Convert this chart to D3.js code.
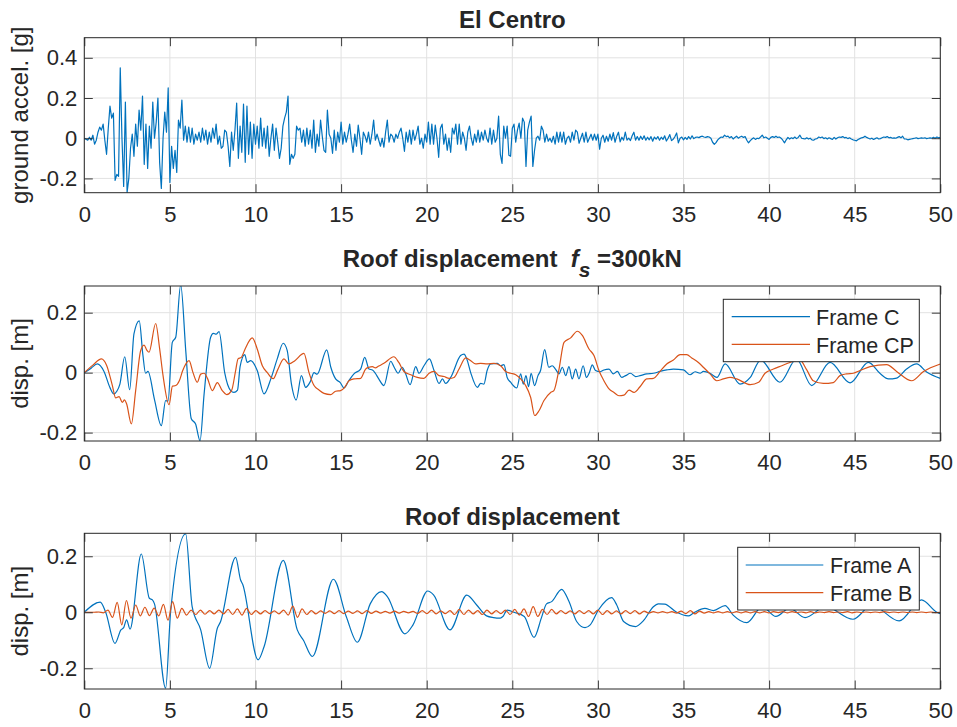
<!DOCTYPE html>
<html>
<head>
<meta charset="utf-8">
<script src="https://cdn.jsdelivr.net/npm/d3@7"></script>
<style>
  body { margin: 0; background: #fff; }
  svg text { font-family: "Liberation Sans", Arial, Helvetica, sans-serif; fill: #262626; }
</style>
</head>
<body>
<div id="chart"></div>
<script>
// ---- data ----
var xTicks = [0, 5, 10, 15, 20, 25, 30, 35, 40, 45, 50];
var accelTicks = [-0.2, 0, 0.2, 0.4];
var dispTicks = [-0.2, 0, 0.2];

// El Centro ground acceleration [g], sampled every dtAccel s
var dtAccel = 0.1;
var groundAccel = [
  0, -0.005, -0.01, 0.005, -0.01, 0.015, -0.03, -0.01, 0.03, 0.055,
  0.04, 0.07, -0.01, -0.08, 0.05, 0.16, 0.1, 0.125, -0.21, -0.18,
  -0.19, 0.35, 0.0, -0.24, 0.18, -0.27, -0.2, -0.05, 0.02, -0.09,
  0.07, -0.04, 0.14, 0.04, 0.21, -0.13, 0.07, -0.15, 0.06, -0.05,
  0.18, 0.0, 0.08, 0.2, -0.12, -0.25, 0.0, 0.13, 0.03, 0.25,
  -0.22, -0.04, -0.15, -0.06, -0.17, 0.09, 0.05, 0.19, -0.01, 0.06,
  -0.02, 0.055, -0.02, 0.05, -0.03, 0.02, -0.01, 0.03, -0.02, 0.05,
  -0.01, 0.04, -0.03, 0.03, -0.02, 0.05, 0.0, 0.07, -0.03, 0.01,
  -0.05, -0.04, 0.04, 0.03, -0.04, -0.14, 0.03, -0.06, 0.04, 0.175,
  -0.1, 0.06, -0.07, 0.17, -0.12, 0.16, -0.08, 0.08, -0.1, 0.07,
  -0.03, 0.06, -0.05, 0.1, -0.04, 0.05, -0.05, 0.06, -0.09, 0.0,
  0.07, -0.06, 0.05, -0.02, -0.1, -0.05, 0.06, 0.1, 0.13, 0.21,
  -0.13, -0.08, -0.1, -0.08, 0.06, 0.04, 0.05, -0.02, 0.04, -0.04,
  0.05, -0.03, 0.04, -0.05, 0.09, -0.07, 0.02, -0.04, 0.09, 0.01,
  -0.06, -0.07, 0.14, 0.02, 0.0, -0.075, 0.04, -0.06, 0.03, -0.02,
  0.08, -0.03, 0.03, -0.02, 0.02, 0.07, -0.01, -0.07, 0.02, -0.04,
  0.065, 0.0, -0.08, 0.03, 0.01, -0.02, 0.03, -0.03, 0.02, 0.09,
  -0.01, 0.02, -0.01, -0.04, 0.0, -0.045, 0.03, 0.09, -0.02, 0.02,
  0.01, -0.02, 0.02, 0.0, 0.03, 0.05, 0.0, -0.065, 0.03, -0.02,
  0.04, -0.03, 0.04, -0.01, 0.02, 0.06, -0.03, 0.0, -0.05, 0.02,
  -0.02, 0.08, -0.03, 0.07, -0.03, 0.065, 0.0, -0.095, 0.05, 0.07,
  -0.03, 0.02, -0.06, 0.0, -0.07, 0.05, 0.02, 0.07, -0.03, 0.07,
  -0.03, 0.03, 0.0, -0.06, 0.03, 0.06, 0.0, -0.035, 0.02, -0.02,
  0.04, -0.02, 0.03, -0.01, 0.04, 0.0, -0.02, 0.05, -0.03, 0.04,
  -0.02, 0.0, 0.11, -0.08, -0.125, 0.06, 0.0, 0.06, -0.085, -0.09,
  0.05, 0.07, -0.02, 0.04, 0.075, 0.0, 0.1, 0.08, -0.14, 0.04,
  0.08, 0.11, -0.14, -0.06, 0.0, 0.01, -0.01, 0.06, 0.04, -0.02,
  0.02, -0.015, 0.0, -0.02, 0.01, -0.03, 0.03, -0.02, 0.03, -0.02,
  0.03, -0.03, 0.0, 0.01, -0.02, 0.03, -0.01, 0.04, 0.03, -0.025,
  0.0, 0.025, -0.02, 0.03, -0.02, 0.0, 0.02, -0.01, 0.02, -0.01,
  0.02, -0.055, 0.0, 0.015, -0.02, 0.01, -0.015, 0.02, -0.01, 0.028,
  -0.02, 0.01, 0.03, -0.018, 0.005, -0.01, 0.03, -0.01, 0.0, -0.012,
  0.012, 0.03, -0.01, 0.008, -0.01, 0.01, -0.006, 0.012, -0.01, 0.005,
  -0.008, 0.008, -0.015, 0.006, -0.005, 0.008, -0.01, 0.005, -0.006, 0.012,
  -0.014, 0.0, 0.018, -0.012, -0.005, 0.008, 0.026, -0.023, 0.0, 0.006,
  -0.008, 0.004, -0.006, 0.008, -0.004, 0.012, -0.002, 0.004, 0.006, 0.003,
  0.008, 0.01, 0.006, 0.004, 0.008, 0.006, 0.0, -0.02, -0.03, -0.022,
  -0.008, 0.0, 0.006, 0.004, 0.015, 0.008, 0.01, 0.002, 0.008, -0.004,
  0.004, 0.01, 0.0, 0.006, 0.01, 0.004, 0.008, -0.01, -0.023, -0.012,
  -0.004, 0.002, -0.006, 0.0, -0.002, 0.006, 0.015, 0.002, 0.006, 0.0,
  -0.006, 0.004, 0.008, 0.004, 0.01, 0.004, 0.006, 0.0, -0.01, -0.023,
  -0.008, 0.004, -0.004, 0.002, -0.002, 0.006, -0.002, 0.004, 0.015, 0.0,
  -0.002, -0.004, 0.002, -0.004, 0.0, -0.008, -0.01, -0.004, -0.002, 0.006,
  0.002, 0.006, -0.002, 0.002, -0.004, 0.002, -0.002, -0.006, 0.004, -0.004,
  0.002, 0.006, 0.004, 0.008, 0.002, 0.004, -0.002, 0.002, -0.004, -0.008,
  -0.01, -0.013, -0.006, -0.002, 0.002, 0.004, 0.01, 0.004, 0.0, -0.004,
  0.0, -0.006, -0.002, 0.002, -0.004, -0.002, 0.002, 0.006, 0.004, 0.008,
  0.002, 0.004, 0.0, 0.002, 0.0, 0.004, 0.008, 0.002, 0.01, -0.004,
  -0.004, -0.008, -0.006, -0.004, -0.002, 0.0, 0.002, -0.002, 0.0, 0.002,
  0.0, 0.002, -0.002, 0.0, 0.002, 0.0, 0.004, 0.0, 0.006, 0.002,
  0.004
];

// roof displacement [m], [time s, value]
var frameC = [[0,0],[0.4,0.015],[0.76,0.029],[1.15,0.004],[1.5,-0.05],[1.73,-0.071],[1.9,-0.062],[2.08,-0.038],
  [2.36,0.053],[2.65,-0.057],[2.9,0.129],[3.21,0.173],[3.42,0.06],[3.58,-0.002],[3.72,0.004],[4.1,-0.09],
  [4.5,-0.177],[4.75,-0.093],[4.89,-0.095],[5.14,0.101],[5.34,0.118],[5.63,0.293],[5.93,0.07],[6.25,-0.154],
  [6.5,-0.171],[6.76,-0.227],[7.0,-0.07],[7.38,0.118],[7.54,0.131],[7.7,0.128],[7.87,0.137],[8.2,0.0],
  [8.55,-0.06],[8.74,-0.066],[8.95,-0.058],[9.1,0.02],[9.37,0.06],[9.52,0.034],[9.72,0.04],[10.1,0.007],
  [10.5,-0.071],[10.9,-0.02],[11.27,0.046],[11.62,0.098],[11.85,0.074],[12.1,-0.038],[12.38,-0.091],[12.68,-0.01],
  [12.93,-0.049],[13.2,-0.03],[13.42,0.0],[13.6,-0.005],[14.16,0.076],[14.4,0.018],[14.68,-0.021],[14.95,-0.033],
  [15.17,-0.051],[15.45,-0.027],[15.75,-0.004],[16.14,0.012],[16.38,0.051],[16.63,0.012],[16.83,0.009],[17.0,-0.002],
  [17.2,-0.021],[17.5,-0.043],[17.9,0.038],[18.1,0.018],[18.33,-0.002],[18.57,0.018],[18.77,-0.004],[19.03,-0.04],
  [19.36,0.02],[19.55,-0.002],[19.84,0.023],[20.16,0.046],[20.43,0.007],[20.72,-0.036],[20.92,-0.021],[21.11,-0.036],
  [21.4,-0.016],[21.98,0.057],[22.18,0.062],[22.34,0.046],[22.57,0.0],[22.96,-0.049],[23.15,-0.036],[23.34,-0.038],
  [23.53,0.007],[23.73,0.029],[24.12,0.031],[24.32,0.023],[24.51,0.027],[24.7,-0.016],[24.9,-0.032],[25.26,-0.051],
  [25.49,-0.004],[25.64,-0.038],[25.8,-0.01],[25.95,-0.047],[26.1,-0.002],[26.3,-0.043],[26.5,-0.01],[26.65,0.007],
  [26.89,0.077],[27.13,0.018],[27.33,0.023],[27.52,0.012],[27.73,-0.004],[27.92,0.018],[28.12,-0.01],[28.31,0.02],
  [28.5,-0.021],[28.7,0.012],[28.89,-0.021],[29.14,0.023],[29.33,-0.016],[29.5,0.0],[29.67,0.026],[29.86,0.007],
  [30.12,0.003],[30.35,0.009],[30.65,0.012],[30.9,-0.004],[31.14,0.004],[31.39,-0.016],[31.62,-0.01],[31.9,-0.002],
  [32.2,-0.013],[32.46,-0.01],[32.85,-0.004],[33.24,-0.002],[33.63,0.004],[34.02,0.009],[34.41,0.012],[35.0,0.009],
  [35.38,-0.007],[35.68,0.003],[35.97,-0.002],[36.16,0.004],[36.55,-0.002],[36.95,-0.016],[37.43,0.029],[38.3,-0.038],
  [38.9,-0.016],[39.5,0.042],[40.63,-0.032],[41.6,0.045],[42.49,-0.043],[43.56,0.034],[44.73,-0.034],[45.8,0.034],
  [46.5,-0.004],[46.97,-0.021],[47.45,-0.018],[48.03,0.012],[48.62,0.029],[49.2,0.002],[50,-0.019]];

var frameCP = [[0,0],[0.5,0.025],[1.0,0.046],[1.3,0.025],[1.64,-0.043],[1.83,-0.084],[2.03,-0.08],[2.22,-0.099],
  [2.35,-0.091],[2.47,-0.104],[2.75,-0.171],[3.0,-0.06],[3.29,0.073],[3.49,0.092],[3.65,0.075],[3.78,0.068],
  [4.17,0.164],[4.4,0.08],[4.6,-0.01],[4.95,-0.107],[5.15,-0.045],[5.34,-0.043],[5.55,-0.027],[5.75,0.007],
  [6.12,0.04],[6.35,0.0],[6.6,-0.032],[6.8,-0.005],[7.0,-0.002],[7.2,-0.02],[7.48,-0.06],[7.77,-0.033],
  [8.06,-0.06],[8.32,-0.073],[8.6,-0.06],[8.84,0.007],[8.98,0.046],[9.17,0.051],[9.4,0.08],[9.81,0.116],
  [10.1,0.079],[10.4,0.023],[10.69,0.0],[11.04,-0.02],[11.3,0.01],[11.66,0.046],[11.95,0.029],[12.3,0.04],
  [12.83,0.064],[13.12,0.001],[13.42,-0.043],[13.71,-0.058],[14.0,-0.069],[14.39,-0.073],[14.68,-0.062],[14.97,-0.06],
  [15.21,-0.049],[15.46,-0.027],[15.75,-0.021],[16.14,-0.019],[16.43,0.012],[16.63,0.018],[16.83,0.02],[17.0,0.016],
  [17.2,0.022],[17.5,0.031],[18.08,0.053],[18.37,0.034],[18.67,0.004],[19.07,-0.007],[19.45,-0.016],[19.84,-0.019],
  [20.14,-0.002],[20.43,0.004],[20.72,-0.01],[21.01,-0.013],[21.31,-0.019],[21.6,-0.016],[21.89,0.012],[22.28,0.049],
  [22.57,0.04],[22.86,0.029],[23.15,0.031],[23.54,0.029],[23.93,0.031],[24.32,0.023],[24.61,0.004],[24.9,-0.002],
  [25.2,-0.007],[25.49,-0.021],[25.78,-0.043],[26.07,-0.082],[26.31,-0.143],[26.56,-0.127],[26.85,-0.093],[27.24,-0.066],
  [27.43,-0.06],[27.73,0.012],[28.02,0.101],[28.41,0.116],[28.8,0.138],[29.09,0.124],[29.48,0.079],[29.77,0.057],
  [30.06,0.007],[30.35,-0.027],[30.65,-0.054],[30.94,-0.066],[31.23,-0.077],[31.52,-0.075],[31.82,-0.058],[32.11,-0.066],
  [32.46,-0.047],[32.85,-0.021],[33.24,-0.019],[33.63,0.004],[34.02,0.029],[34.41,0.042],[34.8,0.06],[35.19,0.06],
  [35.48,0.049],[35.87,0.034],[36.16,0.018],[36.55,-0.004],[36.94,-0.027],[37.33,-0.021],[37.72,-0.016],[38.11,-0.021],
  [38.9,-0.04],[39.39,-0.032],[39.76,-0.002],[40.25,0.012],[40.74,0.023],[41.22,0.034],[41.8,0.042],[42.2,0.009],
  [42.58,-0.027],[43.17,-0.036],[43.75,-0.033],[44.14,-0.01],[44.53,-0.004],[44.92,-0.002],[45.31,0.007],[45.9,0.02],
  [46.87,0.027],[47.45,0.004],[48.33,-0.027],[49.02,0.004],[50,0.029]];

var frameA = [[0,0],[0.93,0.036],[1.25,0.0],[1.79,-0.111],[2.14,-0.063],[2.3,-0.055],[2.47,-0.027],[2.67,-0.06],
  [3.33,0.208],[3.8,0.05],[3.98,0.044],[4.1,0.03],[4.75,-0.271],[5.04,0.0],[5.92,0.28],[6.3,0.02],
  [6.8,-0.063],[7.32,-0.2],[7.77,-0.057],[7.95,-0.035],[8.84,0.196],[9.13,0.115],[9.25,0.1],[10.15,-0.17],
  [10.5,-0.123],[11.62,0.185],[12.44,-0.063],[12.8,-0.1],[13.32,-0.158],[14.55,0.118],[15.3,-0.015],[15.95,-0.107],
  [16.7,0.03],[17.37,0.074],[17.7,0.056],[18.73,-0.077],[19.2,-0.045],[20.06,0.076],[20.4,0.062],[21.36,-0.063],
  [22.34,0.061],[22.92,0.026],[23.5,-0.013],[23.9,-0.019],[24.3,-0.021],[24.45,-0.015],[24.7,0.008],[25.1,0.0],
  [25.7,-0.015],[26.27,-0.09],[26.7,-0.02],[27.0,0.03],[27.3,0.038],[27.88,0.082],[28.3,0.04],[28.76,-0.033],
  [29.25,-0.055],[29.55,-0.045],[30.03,0.008],[30.8,0.052],[31.1,0.026],[31.5,-0.033],[32.2,-0.051],[32.66,-0.03],
  [33.24,0.02],[33.53,0.03],[33.9,0.029],[34.6,0.0],[35.28,-0.013],[35.6,-0.002],[36.25,0.014],[36.75,0.006],
  [37.43,0.024],[37.9,-0.01],[38.7,-0.037],[39.6,0.02],[40.4,-0.015],[41.2,0.015],[42.1,-0.019],[43.3,0.02],
  [44.9,-0.025],[46.0,0.025],[47.6,-0.031],[48.9,0.044],[49.8,0.0],[50,-0.005]];

// Frame B: one sample per half period, starting at startB
var startB = 0.03, dtB = 0.27;
var frameB = [0,
  0, 0, 0.001, -0.002, 0.008, -0.018, 0.035, -0.045, 0.042, -0.021,
  0.026, -0.013, 0.018, -0.012, 0.015, -0.013, 0.028, -0.028, 0.038, -0.021,
  0.014, -0.01, 0.008, -0.008, 0.008, -0.007, 0.006, -0.006, 0.008, -0.006,
  0.01, -0.008, 0.012, -0.01, 0.014, -0.008, 0.006, -0.006, 0.006, -0.005,
  0.005, -0.006, 0.008, -0.01, 0.022, -0.018, 0.012, -0.008, 0.006, -0.006,
  0.005, -0.004, 0.005, -0.005, 0.006, -0.005, 0.004, -0.004, 0.005, -0.005,
  0.006, -0.004, 0.004, -0.003, 0.003, -0.003, 0.004, -0.003, 0.003, -0.002,
  0.003, -0.004, 0.006, -0.005, 0.008, -0.006, 0.005, -0.005, 0.006, -0.008,
  0.01, -0.008, 0.008, -0.006, 0.006, -0.008, 0.008, -0.006, 0.006, -0.005,
  0.008, -0.008, 0.01, -0.01, 0.012, -0.015, 0.02, -0.015, 0.01, -0.008,
  0.01, -0.006, 0.006, -0.005, 0.005, -0.006, 0.006, -0.005, 0.006, -0.006,
  0.008, -0.008, 0.006, -0.006, 0.005, -0.006, 0.006, -0.005, 0.006, -0.006,
  0.004, -0.003, 0.002, -0.002, 0.002, -0.002, 0.002, -0.003, 0.004, -0.005,
  0.006, -0.006, 0.004, -0.003, 0.002, -0.002, 0.002, -0.002, 0.002, -0.002,
  0.002, -0.002, 0.002, -0.002, 0.002, -0.002, 0.002, -0.002, 0.002, -0.001,
  0.002, -0.002, 0.002, -0.001, 0.001, -0.002, 0.002, -0.002, 0.001, -0.001,
  0.002, -0.001, 0.001, -0.001, 0.002, -0.002, 0.001, -0.001, 0.001, -0.001,
  0.001, -0.001, 0.002, -0.001, 0.001, -0.001, 0.001, -0.001, 0.001, -0.001,
  0.001, -0.001, 0.001, -0.001, 0.0
];

var blue = "#0072BD";
var orange = "#D95319";
var ink = "#262626";
var tickLen = 8.5;

var width = 957;
var height = 727;
var plotLeft = 84.3, plotRight = 940.3;

var svg = d3.select("#chart").append("svg")
  .attr("width", width)
  .attr("height", height);
var defs = svg.append("defs");

var x = d3.scaleLinear().domain([0, 50]).range([plotLeft, plotRight]);

var accelPts = groundAccel.map((v, i) => [i * dtAccel, v]);
var framePtsB = frameB.map((v, i) => [startB + i * dtB, v]);

var panels = [
  {
    id: "p1", top: 37.7, bottom: 192.7, yDomain: [-0.271, 0.5], yTicks: accelTicks,
    ylabel: "ground accel. [g]", titleY: 28.3,
    series: [{ pts: accelPts, color: blue, curve: d3.curveLinear }]
  },
  {
    id: "p2", top: 286, bottom: 441, yDomain: [-0.228, 0.289], yTicks: dispTicks,
    ylabel: "disp. [m]", titleY: 266.7, fsTitle: true,
    series: [
      { pts: frameC, color: blue, curve: d3.curveMonotoneX, name: "Frame C" },
      { pts: frameCP, color: orange, curve: d3.curveMonotoneX, name: "Frame CP" }
    ],
    legend: { x0: 723.3, x1: 919.3, y0: 299.3, y1: 361.7, lx0: 731.7, lx1: 810, tx: 816, ly: [316.7, 344.3] }
  },
  {
    id: "p3", top: 533.3, bottom: 689, yDomain: [-0.274, 0.282], yTicks: dispTicks,
    ylabel: "disp. [m]", titleY: 525, title: "Roof displacement",
    series: [
      { pts: frameA, color: blue, curve: d3.curveMonotoneX, name: "Frame A" },
      { pts: framePtsB, color: orange, curve: d3.curveMonotoneX, name: "Frame B" }
    ],
    legend: { x0: 737.7, x1: 919.3, y0: 547.3, y1: 610, lx0: 745.7, lx1: 823.3, tx: 830, ly: [565, 592.7] }
  }
];
panels[0].title = "El Centro";

function fmtY(d) { return d === 0 ? "0" : String(d); }

function styleAxis(g) {
  g.attr("color", ink)
    .attr("font-family", "'Liberation Sans', Arial, Helvetica, sans-serif")
    .attr("font-size", 22);
  g.select(".domain").remove();
  g.selectAll(".tick line").attr("stroke-width", 0.9);
}

function drawPanel(p) {
  var y = d3.scaleLinear().domain(p.yDomain).range([p.bottom, p.top]);
  var g = svg.append("g");

  defs.append("clipPath").attr("id", "clip-" + p.id)
    .append("rect")
    .attr("x", plotLeft).attr("y", p.top)
    .attr("width", plotRight - plotLeft).attr("height", p.bottom - p.top);

  // grid
  g.append("g").selectAll("line").data(xTicks).enter().append("line")
    .attr("x1", d => x(d)).attr("x2", d => x(d))
    .attr("y1", p.top).attr("y2", p.bottom)
    .attr("stroke", "#e2e2e2").attr("stroke-width", 1);
  g.append("g").selectAll("line").data(p.yTicks).enter().append("line")
    .attr("x1", plotLeft).attr("x2", plotRight)
    .attr("y1", d => y(d)).attr("y2", d => y(d))
    .attr("stroke", "#e2e2e2").attr("stroke-width", 1);

  // data lines
  p.series.forEach(s => {
    var line = d3.line().x(d => x(d[0])).y(d => y(d[1])).curve(s.curve);
    g.append("path")
      .datum(s.pts)
      .attr("clip-path", "url(#clip-" + p.id + ")")
      .attr("fill", "none")
      .attr("stroke", s.color)
      .attr("stroke-width", 1.2)
      .attr("stroke-linejoin", "round")
      .attr("d", line);
  });

  // axes, ticks pointing inward on all four sides
  g.append("g").attr("transform", "translate(0," + p.bottom + ")")
    .call(d3.axisBottom(x).tickValues(xTicks).tickSize(-tickLen).tickPadding(13.5).tickFormat(d => String(d)))
    .call(styleAxis);
  g.append("g").attr("transform", "translate(0," + p.top + ")")
    .call(d3.axisTop(x).tickValues(xTicks).tickSize(-tickLen).tickFormat(""))
    .call(styleAxis);
  g.append("g").attr("transform", "translate(" + plotLeft + ",0)")
    .call(d3.axisLeft(y).tickValues(p.yTicks).tickSize(-tickLen).tickPadding(7).tickFormat(fmtY))
    .call(styleAxis);
  g.append("g").attr("transform", "translate(" + plotRight + ",0)")
    .call(d3.axisRight(y).tickValues(p.yTicks).tickSize(-tickLen).tickFormat(""))
    .call(styleAxis);

  g.append("rect")
    .attr("x", plotLeft).attr("y", p.top)
    .attr("width", plotRight - plotLeft).attr("height", p.bottom - p.top)
    .attr("fill", "none").attr("stroke", ink).attr("stroke-width", 1);

  // y label
  g.append("text")
    .attr("transform", "translate(28," + ((p.top + p.bottom) / 2) + ") rotate(-90)")
    .attr("text-anchor", "middle")
    .attr("font-size", 24)
    .text(p.ylabel);

  // title
  var t = g.append("text")
    .attr("x", (plotLeft + plotRight) / 2)
    .attr("y", p.titleY)
    .attr("text-anchor", "middle")
    .attr("font-size", 24)
    .attr("font-weight", "bold");
  if (p.fsTitle) {
    t.append("tspan").text("Roof displacement\u00a0\u00a0");
    t.append("tspan").attr("font-style", "italic").text("f");
    t.append("tspan").attr("font-style", "italic").attr("font-size", 21).attr("dy", 10).text("s");
    t.append("tspan").attr("dy", -10).text("\u00a0=300kN");
  } else {
    t.text(p.title);
  }

  // legend
  if (p.legend) {
    var L = p.legend;
    var lg = g.append("g");
    lg.append("rect")
      .attr("x", L.x0).attr("y", L.y0)
      .attr("width", L.x1 - L.x0).attr("height", L.y1 - L.y0)
      .attr("fill", "#fff").attr("stroke", ink).attr("stroke-width", 1);
    p.series.forEach((s, i) => {
      lg.append("line")
        .attr("x1", L.lx0).attr("x2", L.lx1)
        .attr("y1", L.ly[i]).attr("y2", L.ly[i])
        .attr("stroke", s.color).attr("stroke-width", 1.2);
      lg.append("text")
        .attr("x", L.tx).attr("y", L.ly[i] + 8.3)
        .attr("font-size", 21.5)
        .text(s.name);
    });
  }
}

panels.forEach(drawPanel);
</script>
</body>
</html>
